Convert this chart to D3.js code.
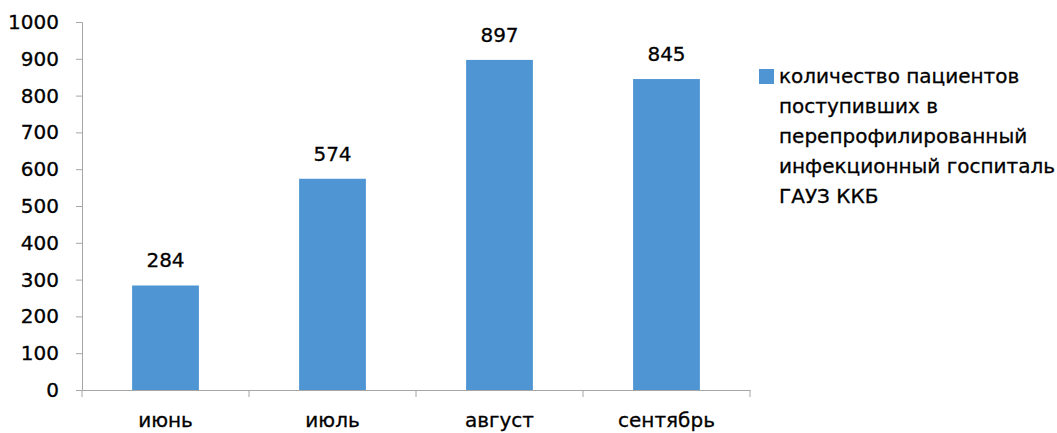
<!DOCTYPE html>
<html><head><meta charset="utf-8">
<script src="https://cdn.jsdelivr.net/npm/d3@7"></script>
<style>body{margin:0;background:#fff}svg{display:block}text{font-family:"DejaVu Sans",sans-serif;fill:#000;stroke:#000;stroke-width:0.3px}</style>
</head><body>
<svg id="c" width="1057" height="433"></svg>
<script>
const categories = ["июнь", "июль", "август", "сентябрь"];
const values = [284, 574, 897, 845];
const yTicks = [0, 100, 200, 300, 400, 500, 600, 700, 800, 900, 1000];
const legendLines = ["количество пациентов", "поступивших в", "перепрофилированный", "инфекционный госпиталь", "ГАУЗ ККБ"];

(function () {
const svg = d3.select("#c");
const mLeft = 82, mRight = 750, mTop = 22, mBottom = 390;
const color = "#4f95d3", axisColor = "#a6a6a6", fs = "20px";
const x = d3.scaleBand().domain(categories).range([mLeft, mRight]).paddingInner(0.6).paddingOuter(0.3);
const xb = d3.scaleBand().domain(categories).range([mLeft, mRight]);
const y = d3.scaleLinear().domain([0, 1000]).range([mBottom, mTop]);

// y axis
const ya = svg.append("g").attr("transform", `translate(${mLeft},0)`)
  .call(d3.axisLeft(y).tickValues(yTicks).tickSize(6).tickPadding(17).tickFormat(d3.format("d")));
ya.selectAll("line,path").attr("stroke", axisColor);
ya.selectAll("text").style("font-size", fs).attr("fill", "#000");

// x axis
const xa = svg.append("g").attr("transform", `translate(0,${mBottom})`)
  .call(d3.axisBottom(xb).tickSize(0).tickSizeOuter(0).tickFormat(d => ""));
xa.select("path").attr("stroke", axisColor);
xa.selectAll(".tick").remove();
const bounds = categories.map(c => xb(c)).concat([mRight]);
svg.append("g").selectAll("line").data(bounds).join("line")
  .attr("x1", d => d).attr("x2", d => d).attr("y1", mBottom).attr("y2", mBottom + 7)
  .attr("stroke", axisColor);
svg.append("g").selectAll("text").data(categories).join("text")
  .attr("x", d => xb(d) + xb.bandwidth() / 2).attr("y", 427)
  .attr("text-anchor", "middle").style("font-size", fs).text(d => d);

// bars
svg.append("g").selectAll("rect").data(values).join("rect")
  .attr("x", (d, i) => x(categories[i])).attr("width", x.bandwidth())
  .attr("y", d => y(d)).attr("height", d => mBottom - y(d)).attr("fill", color);

// labels
svg.append("g").selectAll("text").data(values).join("text")
  .attr("x", (d, i) => x(categories[i]) + x.bandwidth() / 2).attr("y", d => y(d) - 18)
  .attr("text-anchor", "middle").style("font-size", fs).text(d => d);

// legend
const lg = svg.append("g");
lg.append("rect").attr("x", 759).attr("y", 69).attr("width", 15).attr("height", 15).attr("fill", color);
lg.selectAll("text").data(legendLines).join("text")
  .attr("x", 779).attr("y", (d, i) => 83 + i * 30).style("font-size", fs).text(d => d);
})();
</script>
</body></html>
